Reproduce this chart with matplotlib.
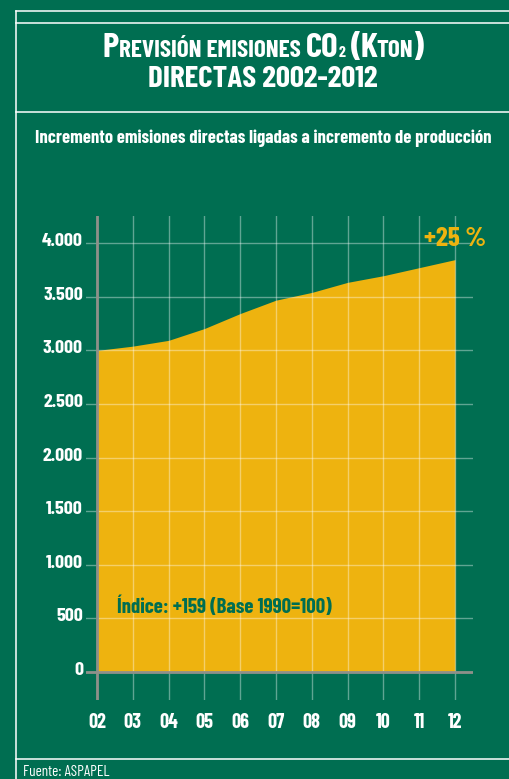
import matplotlib
matplotlib.use('Agg')
import matplotlib.pyplot as plt
from matplotlib.lines import Line2D
from matplotlib.transforms import ScaledTranslation

W, H = 509, 779
GREEN = '#006E51'
YELLOW = '#EEB30F'
GRAY = '#8E9089'
FONT = ['Barlow Condensed', 'DejaVu Sans']

# ---- data ----
years = [2, 3, 4, 5, 6, 7, 8, 9, 10, 11, 12]
year_labels = ['02', '03', '04', '05', '06', '07', '08', '09', '10', '11', '12']
emissions = [3000, 3040, 3094, 3204, 3344, 3469, 3541, 3635, 3697, 3772, 3847]
ytick_vals = [0, 500, 1000, 1500, 2000, 2500, 3000, 3500, 4000]
ytick_labels = ['0', '500', '1.000', '1.500', '2.000', '2.500', '3.000', '3.500', '4.000']

fig = plt.figure(figsize=(W / 100, H / 100), dpi=100, facecolor=GREEN)
R = fig.canvas.get_renderer()

def fx(px):
    return px / W

def fy(py):
    return 1 - py / H

def width_of(s, size, weight='bold'):
    t = fig.text(0, 0, s, fontsize=size, fontweight=weight, family=FONT)
    w = t.get_window_extent(R).width
    t.remove()
    return w

def fit_size(s, target_px, weight='bold', base=20):
    return base * target_px / width_of(s, base, weight)

# ---- frame lines ----
for (x0, y0, x1, y1) in [(16, 11, 509, 11), (16, 23, 509, 23), (16, 11, 16, 779),
                         (16, 112, 509, 112), (16, 759, 509, 759)]:
    fig.add_artist(Line2D([fx(x0), fx(x1)], [fy(y0), fy(y1)], color='white', lw=1.1,
                          transform=fig.transFigure))

# ---- axes ----
ax = fig.add_axes([fx(86), fy(700), (473 - 86) / W, (700 - 216) / H])
ax.set_facecolor('none')
ax.set_xlim(1.693, 12.503)
ax.set_ylim(-261, 4254)
for s in ax.spines.values():
    s.set_visible(False)

ax.fill_between(years, 0, emissions, color=YELLOW, lw=0, zorder=1)
ax.set_axisbelow(False)
ax.grid(True, color='white', alpha=0.38, lw=1.0)
ax.axhline(0, color=GRAY, lw=2.0, zorder=4)
ax.axvline(2, color=GRAY, lw=2.0, zorder=4)

xsize = fit_size('02', 18)
ysize = fit_size('4.000', 41)
ax.set_xticks(years, year_labels)
ax.set_yticks(ytick_vals, ytick_labels)
ax.tick_params(length=0)
ax.tick_params(axis='x', pad=19.8, labelsize=xsize, labelcolor='white')
ax.tick_params(axis='y', pad=2.2, labelsize=ysize, labelcolor='white')
for lab in ax.get_xticklabels():
    lab.set_fontfamily(FONT)
    lab.set_fontweight('bold')
    lab.set_va('baseline')
for lab in ax.get_yticklabels():
    lab.set_fontfamily(FONT)
    lab.set_fontweight('bold')
    lab.set_va('baseline')
    lab.set_transform(lab.get_transform() + ScaledTranslation(0, -3 / 100, fig.dpi_scale_trans))

# ---- title with small caps ----
def rich_line(pieces, x_left, x_right, base_py):
    texts = []
    for s, rel, gap in pieces:
        t = fig.text(0, 0, s, fontsize=20 * rel, fontweight='bold', color='white',
                     family=FONT, va='baseline', ha='left')
        texts.append((t, rel, gap))
    gaps = sum(g for _, _, g in texts)
    total = sum(t.get_window_extent(R).width for t, rel, g in texts)
    k = (x_right - x_left - gaps) / total
    for t, rel, g in texts:
        t.set_fontsize(20 * rel * k)
    x = x_left
    for t, rel, g in texts:
        t.set_position((fx(x), fy(base_py)))
        x += t.get_window_extent(R).width + g

rich_line([('P', 1.0, 0), ('REVISIÓN EMISIONES', 0.72, 5), ('CO', 1.0, 0), ('2', 0.45, 5),
           ('(K', 1.0, -2), ('TON', 0.72, -1), (')', 1.0, 0)], 103, 424, 57)
s2 = 'DIRECTAS 2002-2012'
fig.text(fx(148), fy(87), s2, fontsize=fit_size(s2, 231), fontweight='bold',
         color='white', family=FONT, ha='left', va='baseline')

s3 = 'Incremento emisiones directas ligadas a incremento de producción'
fig.text(fx(35), fy(143), s3, fontsize=fit_size(s3, 456), fontweight='bold',
         color='white', family=FONT, ha='left', va='baseline')

s4 = '+25 %'
fig.text(fx(424), fy(246), s4, fontsize=fit_size(s4, 62), fontweight='bold', color=YELLOW,
         family=FONT, ha='left', va='baseline')
s5 = 'Índice: +159 (Base 1990=100)'
fig.text(fx(117), fy(613), s5, fontsize=fit_size(s5, 215), fontweight='bold',
         color=GREEN, family=FONT, ha='left', va='baseline')
s6 = 'Fuente: ASPAPEL'
fig.text(fx(23), fy(776), s6, fontsize=fit_size(s6, 87, 'normal'), color='white',
         family=FONT, ha='left', va='baseline')

fig.savefig('out.png', dpi=100, facecolor=GREEN)
